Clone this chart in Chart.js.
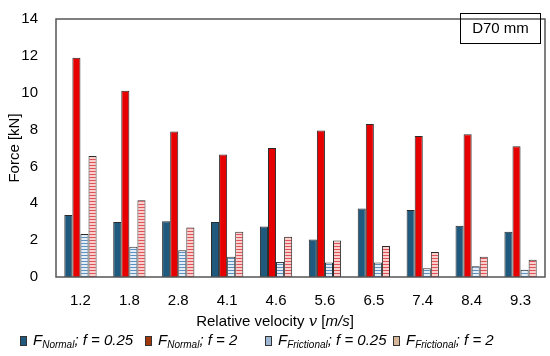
<!DOCTYPE html>
<html>
<head>
<meta charset="utf-8">
<script src="https://cdn.jsdelivr.net/npm/chart.js@4"></script>
<style>
  html, body { margin: 0; padding: 0; background: #fff; }
  #wrap { position: relative; width: 550px; height: 356px; font-family: "Liberation Sans", Arial, sans-serif; }
  #xtitle { position: absolute; left: 0; width: 550px; top: 312px; text-align: center; font-size: 15px; color: #000; }
  #legend { position: absolute; left: 0; top: 331px; width: 550px; font-size: 15px; color: #000; }
  .item { position: absolute; top: 0; white-space: nowrap; font-style: italic; }
  .mk { display: inline-block; width: 5px; height: 8px; border: 1px solid #333; margin-right: 6px; vertical-align: -1px; }
  sub { font-size: 10px; vertical-align: -3px; }
  .v { font-family: "DejaVu Serif", serif; font-style: italic; }
</style>
</head>
<body>
<div id="wrap">
  <canvas id="forceChart" width="550" height="356"></canvas>
  <div id="xtitle">Relative velocity <span class="v">v</span> [<i>m/s</i>]</div>
  <div id="legend">
    <span class="item" style="left:20px"><span class="mk" style="background:#1f5a7e"></span>F<sub>Normal</sub>; f = 0.25</span>
    <span class="item" style="left:145px"><span class="mk" style="background:#a0380c"></span>F<sub>Normal</sub>; f = 2</span>
    <span class="item" style="left:265px"><span class="mk" style="background:#9fb8d4"></span>F<sub>Frictional</sub>; f = 0.25</span>
    <span class="item" style="left:393px"><span class="mk" style="background:#d8b89a"></span>F<sub>Frictional</sub>; f = 2</span>
  </div>
</div>
<script>
const velocities = ['1.2', '1.8', '2.8', '4.1', '4.6', '5.6', '6.5', '7.4', '8.4', '9.3'];
const normalLow = [3.37, 2.99, 3.03, 2.99, 2.74, 2.03, 3.72, 3.63, 2.78, 2.46];
const normalHigh = [11.9, 10.1, 7.9, 6.65, 7.0, 7.95, 8.3, 7.65, 7.75, 7.1];
const frictionLow = [2.34, 1.64, 1.45, 1.10, 0.82, 0.79, 0.79, 0.47, 0.59, 0.40];
const frictionHigh = [6.57, 4.16, 2.69, 2.45, 2.19, 1.98, 1.68, 1.36, 1.10, 0.94];
const yTicks = [0, 2, 4, 6, 8, 10, 12, 14];

// horizontal stripe fill for the frictional bars
function stripes(base, line) {
    const c = document.createElement('canvas');
    c.width = 4;
    c.height = 3;
    const g = c.getContext('2d');
    g.fillStyle = base;
    g.fillRect(0, 0, 4, 3);
    g.fillStyle = line;
    g.fillRect(0, 0, 4, 1);
    return g.createPattern(c, 'repeat');
}

const frame = {
    id: 'frame',
    afterDraw(chart) {
        const ctx = chart.ctx;
        const a = chart.chartArea;
        ctx.save();
        ctx.strokeStyle = '#555';
        ctx.lineWidth = 1.5;
        ctx.strokeRect(a.left, a.top, a.right - a.left, a.bottom - a.top);
        // label box
        ctx.strokeStyle = '#000';
        ctx.lineWidth = 1;
        ctx.strokeRect(460.5, 13.5, 80, 30);
        ctx.fillStyle = '#000';
        ctx.font = '15px "Liberation Sans", Arial, sans-serif';
        ctx.textAlign = 'center';
        ctx.textBaseline = 'middle';
        ctx.fillText('D70 mm', 500.5, 29);
        ctx.restore();
    }
};

document.addEventListener('DOMContentLoaded', function() {
    const el = document.getElementById('forceChart');
    const common = {
        borderColor: '#2a2a2a',
        borderWidth: 1,
        categoryPercentage: 0.66,
        barPercentage: 1.0
    };

    new Chart(el, {
        type: 'bar',
        data: {
            labels: velocities,
            datasets: [
                Object.assign({ label: 'F Normal; f = 0.25', data: normalLow, backgroundColor: '#1f5a7e' }, common),
                Object.assign({ label: 'F Normal; f = 2', data: normalHigh, backgroundColor: '#e60000' }, common),
                Object.assign({ label: 'F Frictional; f = 0.25', data: frictionLow, backgroundColor: stripes('#e4eef8', '#5d8fbf') }, common),
                Object.assign({ label: 'F Frictional; f = 2', data: frictionHigh, backgroundColor: stripes('#fbd0cc', '#e0525a') }, common)
            ]
        },
        options: {
            responsive: false,
            animation: false,
            layout: { padding: { left: 0, top: 10, right: 5, bottom: 44 } },
            plugins: {
                legend: { display: false },
                tooltip: { enabled: false }
            },
            scales: {
                x: {
                    grid: { display: false },
                    border: { display: false },
                    ticks: {
                        color: '#000',
                        padding: 7,
                        font: { size: 15, family: '"Liberation Sans", Arial, sans-serif' }
                    },
                    afterFit: function(scale) { scale.height = 35; }
                },
                y: {
                    min: 0,
                    max: 14,
                    afterBuildTicks: function(scale) {
                        scale.ticks = yTicks.map(v => ({ value: v }));
                    },
                    grid: { display: false },
                    border: { display: false },
                    ticks: {
                        color: '#000',
                        padding: 10,
                        font: { size: 15, family: '"Liberation Sans", Arial, sans-serif' }
                    },
                    title: {
                        display: true,
                        text: 'Force [kN]',
                        color: '#000',
                        padding: { top: 6, bottom: 0 },
                        font: { size: 15, family: '"Liberation Sans", Arial, sans-serif' }
                    },
                    afterFit: function(scale) { scale.width = 56; }
                }
            }
        },
        plugins: [frame]
    });
});
</script>
</body>
</html>
